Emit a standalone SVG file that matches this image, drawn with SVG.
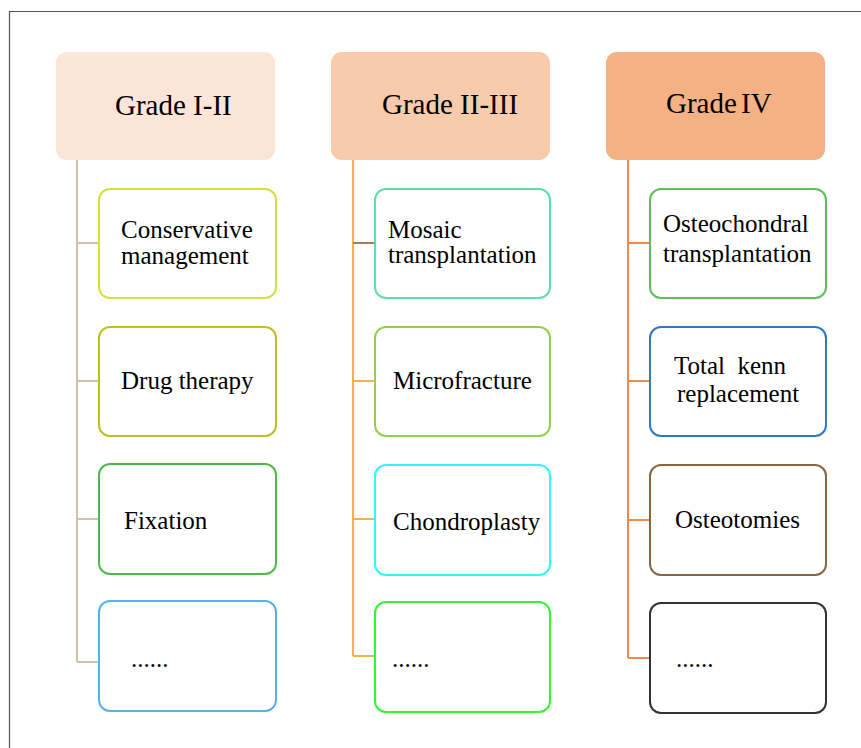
<svg xmlns="http://www.w3.org/2000/svg" width="861" height="748" viewBox="0 0 861 748">
<style>
.h{font-size:29px}
.c{font-size:25px}
.box{fill:#fff;stroke-width:2}
.ln{fill:none;stroke-width:2}
</style>
<rect width="861" height="748" fill="#fff"/>
<path d="M9.5,748 V11.5 H861" fill="none" stroke="#555" stroke-width="1.2"/>
<g id="connectors">
<path class="ln" stroke="#D2C0A8" d="M77,160 V662 M77,243 H99 M77,381 H99 M77,519 H99 M77,662 H99"/>
<path class="ln" stroke="#F7B14A" d="M353,160 V656 M353,381 H375 M353,519 H375 M353,656 H375"/>
<path class="ln" stroke="#A77B5A" d="M353,243 H375"/>
<path class="ln" stroke="#F08A4B" d="M628,160 V658 M628,243 H650 M628,381 H650 M628,520 H650 M628,658 H650"/>
</g>
<g font-family="'Liberation Serif', 'DejaVu Serif', serif" fill="#000">
<g id="h1"><rect x="56" y="52" width="219" height="108" rx="11" fill="#FBE5D6"/><text class="h" x="115" y="115">Grade I-II</text></g>
<g id="h2"><rect x="331" y="52" width="219" height="108" rx="11" fill="#F8CBAD"/><text class="h" x="382" y="114">Grade II-III</text></g>
<g id="h3"><rect x="606" y="52" width="219" height="108" rx="11" fill="#F4B183"/><text class="h" x="666" y="113" word-spacing="-3">Grade IV</text></g>

<g id="n11"><rect class="box" x="99" y="189" width="177" height="109" rx="11" stroke="#D6E03C"/><text class="c" x="121" y="238">Conservative</text><text class="c" x="121" y="264">management</text></g>
<g id="n12"><rect class="box" x="99" y="327" width="177" height="109" rx="11" stroke="#BFBF22"/><text class="c" x="121" y="389">Drug therapy</text></g>
<g id="n13"><rect class="box" x="99" y="464" width="177" height="110" rx="11" stroke="#4DB84D"/><text class="c" x="124" y="529">Fixation</text></g>
<g id="n14"><rect class="box" x="99" y="601" width="177" height="110" rx="11" stroke="#55B4E6"/><text class="c" x="131" y="667">......</text></g>

<g id="n21"><rect class="box" x="375" y="189" width="175" height="109" rx="11" stroke="#5BE0A6"/><text class="c" x="388" y="238">Mosaic</text><text class="c" x="388" y="263">transplantation</text></g>
<g id="n22"><rect class="box" x="375" y="327" width="175" height="109" rx="11" stroke="#92D050"/><text class="c" x="393" y="389">Microfracture</text></g>
<g id="n23"><rect class="box" x="375" y="465" width="175" height="110" rx="11" stroke="#33F5FF"/><text class="c" x="393" y="530">Chondroplasty</text></g>
<g id="n24"><rect class="box" x="375" y="602" width="175" height="110" rx="11" stroke="#33F533"/><text class="c" x="392" y="667">......</text></g>

<g id="n31"><rect class="box" x="650" y="189" width="176" height="109" rx="11" stroke="#5CBF5C"/><text class="c" x="663" y="232">Osteochondral</text><text class="c" x="663" y="262">transplantation</text></g>
<g id="n32"><rect class="box" x="650" y="327" width="176" height="109" rx="11" stroke="#2A7AC6"/><text class="c" x="674" y="374" xml:space="preserve">Total  kenn</text><text class="c" x="677" y="402">replacement</text></g>
<g id="n33"><rect class="box" x="650" y="465" width="176" height="110" rx="11" stroke="#8A6642"/><text class="c" x="675" y="528">Osteotomies</text></g>
<g id="n34"><rect class="box" x="650" y="603" width="176" height="110" rx="11" stroke="#333"/><text class="c" x="676" y="667">......</text></g>
</g>
</svg>
